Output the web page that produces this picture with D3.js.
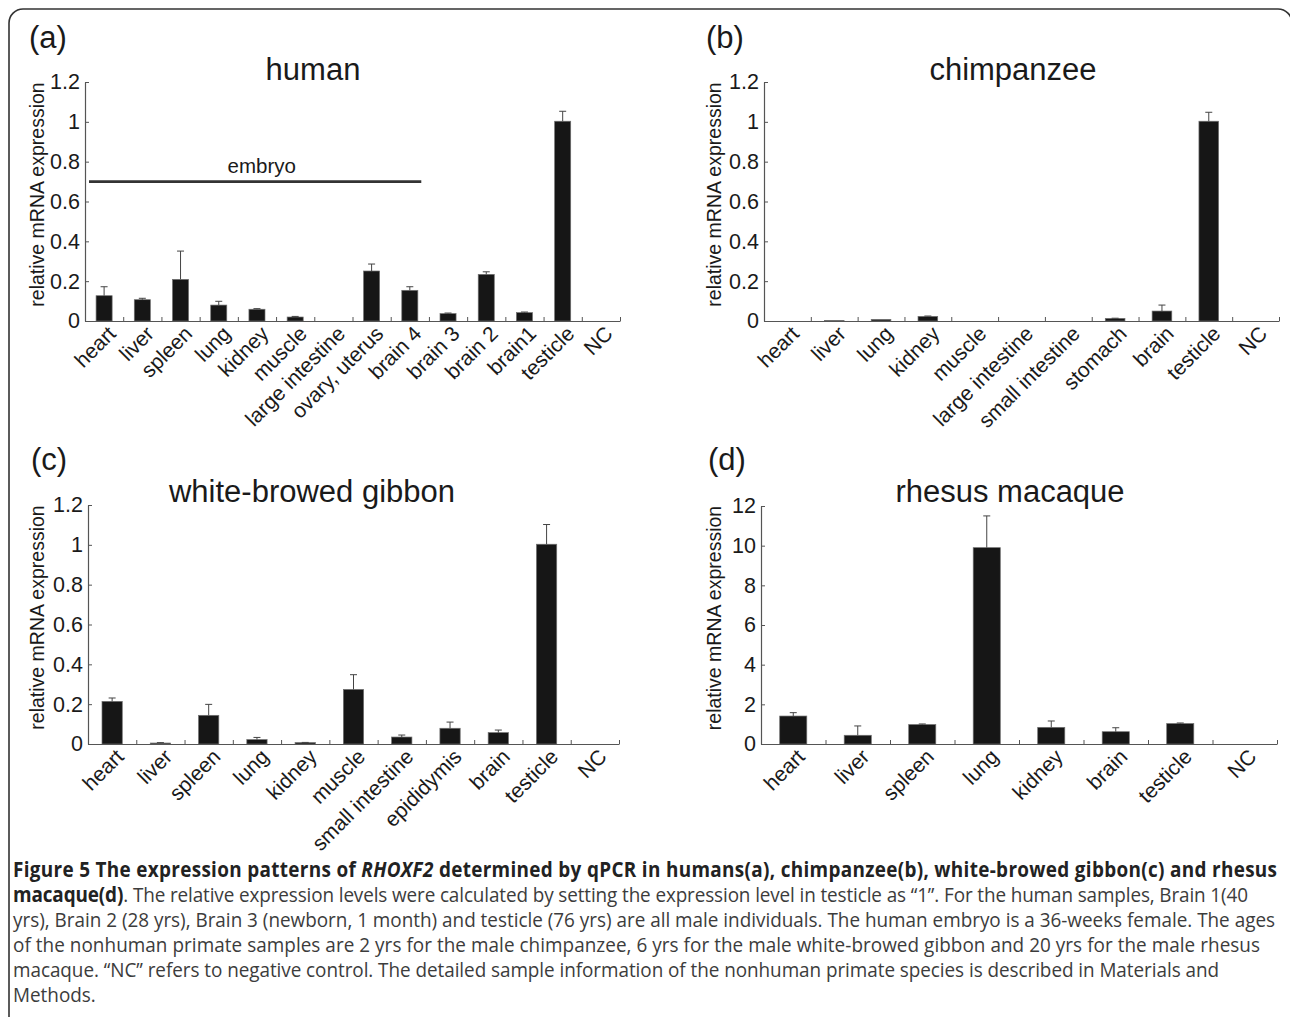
<!DOCTYPE html>
<html><head><meta charset="utf-8">
<script src="https://cdn.jsdelivr.net/npm/d3@7"></script>
<style>body{margin:0;background:#fff} svg{display:block}</style>
</head><body>
<svg id="fig" width="1290" height="1017"></svg>
<script>
// ---------- data ----------
const humanCats = ["heart","liver","spleen","lung","kidney","muscle","large intestine","ovary, uterus","brain 4","brain 3","brain 2","brain1","testicle","NC"];
const humanVals = [0.127,0.107,0.209,0.080,0.059,0.020,0,0.251,0.154,0.037,0.234,0.042,1.003,0];
const humanErr  = [0.045,0.007,0.142,0.019,0.003,0.003,0,0.035,0.018,0.003,0.013,0.003,0.050,0];

const chimpCats = ["heart","liver","lung","kidney","muscle","large intestine","small intestine","stomach","brain","testicle","NC"];
const chimpVals = [0,0.003,0.008,0.023,0,0,0,0.013,0.050,1.003,0];
const chimpErr  = [0,0,0,0.002,0,0,0,0.001,0.030,0.045,0];

const gibbonCats = ["heart","liver","spleen","lung","kidney","muscle","small intestine","epididymis","brain","testicle","NC"];
const gibbonVals = [0.214,0.005,0.144,0.022,0.007,0.274,0.035,0.079,0.057,1.003,0];
const gibbonErr  = [0.017,0.002,0.055,0.011,0.001,0.074,0.010,0.031,0.013,0.099,0];

const macaqueCats = ["heart","liver","spleen","lung","kidney","brain","testicle","NC"];
const macaqueVals = [1.41,0.44,0.98,9.90,0.84,0.62,1.03,0];
const macaqueErr  = [0.17,0.47,0.03,1.60,0.32,0.20,0.03,0];

const ticksRel = [0,0.2,0.4,0.6,0.8,1,1.2];
const ticksMac = [0,2,4,6,8,10,12];

const embryoSpan = ["heart","brain 4"];
const embryoLevel = 0.70;
const embryoLabel = "embryo";

const yLabel = "relative mRNA expression";

const captionLines = [
  [["Figure 5 The expression patterns of ","b"],["RHOXF2","bi"],[" determined by qPCR in humans(a), chimpanzee(b), white-browed gibbon(c) and rhesus","b"]],
  [["macaque(d)","b"],[". The relative expression levels were calculated by setting the expression level in testicle as \u201c1\u201d. For the human samples, Brain 1(40","n"]],
  [["yrs), Brain 2 (28 yrs), Brain 3 (newborn, 1 month) and testicle (76 yrs) are all male individuals. The human embryo is a 36-weeks female. The ages","n"]],
  [["of the nonhuman primate samples are 2 yrs for the male chimpanzee, 6 yrs for the male white-browed gibbon and 20 yrs for the male rhesus","n"]],
  [["macaque. \u201cNC\u201d refers to negative control. The detailed sample information of the nonhuman primate species is described in Materials and","n"]],
  [["Methods.","n"]]
];

// ---------- layout ----------
const svg = d3.select("#fig");
const FONT = "'Liberation Sans', Arial, Helvetica, sans-serif";
const INK = "#1a1a1a";

svg.append("rect").attr("x",9).attr("y",9).attr("width",1283).attr("height",1100)
  .attr("rx",14).attr("fill","none").attr("stroke","#333").attr("stroke-width",1.6);

const panels = [
  {tag:"(a)", title:"human", cats:humanCats, vals:humanVals, err:humanErr, ticks:ticksRel, max:1.2,
   x0:85, x1:620, y0:321, y1:82, tagX:29, tagY:48, titleX:313, titleY:80, ylabX:44, embryo:true},
  {tag:"(b)", title:"chimpanzee", cats:chimpCats, vals:chimpVals, err:chimpErr, ticks:ticksRel, max:1.2,
   x0:764, x1:1279, y0:321, y1:82, tagX:706, tagY:48, titleX:1013, titleY:80, ylabX:721},
  {tag:"(c)", title:"white-browed gibbon", cats:gibbonCats, vals:gibbonVals, err:gibbonErr, ticks:ticksRel, max:1.2,
   x0:88, x1:619, y0:744, y1:505, tagX:31, tagY:470, titleX:312, titleY:502, ylabX:44},
  {tag:"(d)", title:"rhesus macaque", cats:macaqueCats, vals:macaqueVals, err:macaqueErr, ticks:ticksMac, max:12,
   x0:761, x1:1277, y0:744, y1:506, tagX:708, tagY:470, titleX:1010, titleY:502, ylabX:721}
];

panels.forEach(p => {
  const g = svg.append("g");
  const x = d3.scaleBand().domain(p.cats).range([p.x0, p.x1]).paddingInner(0).paddingOuter(0);
  const y = d3.scaleLinear().domain([0, p.max]).range([p.y0, p.y1]);
  const bw = x.bandwidth();
  const barW = bw * 0.42;

  g.append("text").attr("x",p.tagX).attr("y",p.tagY).text(p.tag)
    .attr("font-family",FONT).attr("font-size",31).attr("fill",INK);
  g.append("text").attr("x",p.titleX).attr("y",p.titleY).text(p.title)
    .attr("text-anchor","middle").attr("font-family",FONT).attr("font-size",31).attr("fill",INK);

  g.append("text").attr("transform",`translate(${p.ylabX},${(p.y0+p.y1)/2 - 7}) rotate(-90)`)
    .attr("text-anchor","middle").attr("font-family",FONT).attr("font-size",19.5).attr("fill",INK)
    .text(yLabel);

  const data = p.cats.map((c,i)=>({c, v:p.vals[i], e:p.err[i]}));
  g.selectAll("rect.bar").data(data.filter(d=>d.v>0)).enter().append("rect")
    .attr("x", d => x(d.c) + (bw - barW)/2)
    .attr("y", d => y(d.v))
    .attr("width", barW)
    .attr("height", d => y(0) - y(d.v))
    .attr("fill","#161616").attr("stroke","#707070").attr("stroke-width",0.7);

  const eb = g.selectAll("g.err").data(data.filter(d=>d.e>0)).enter().append("g");
  eb.append("line")
    .attr("x1", d => x(d.c)+bw/2).attr("x2", d => x(d.c)+bw/2)
    .attr("y1", d => y(d.v)).attr("y2", d => y(d.v+d.e))
    .attr("stroke","#444").attr("stroke-width",1);
  eb.append("line")
    .attr("x1", d => x(d.c)+bw/2-3.5).attr("x2", d => x(d.c)+bw/2+3.5)
    .attr("y1", d => y(d.v+d.e)).attr("y2", d => y(d.v+d.e))
    .attr("stroke","#444").attr("stroke-width",1);

  const yAxis = d3.axisLeft(y).tickValues(p.ticks).tickFormat(d3.format("~g"))
    .tickSizeInner(-4).tickSizeOuter(0).tickPadding(5);
  const ya = g.append("g").attr("transform",`translate(${p.x0},0)`).call(yAxis);
  ya.select(".domain").attr("stroke","#555").attr("stroke-width",1.2);
  ya.selectAll(".tick line").attr("stroke","#555");
  ya.selectAll(".tick text").attr("font-family",FONT).attr("font-size",21.5).attr("fill",INK);

  const xi = d3.scaleLinear().domain([0, p.cats.length]).range([p.x0, p.x1]);
  const xAxis = d3.axisBottom(xi).tickValues(d3.range(1, p.cats.length+1)).tickFormat("")
    .tickSizeInner(-4).tickSizeOuter(0);
  const xa = g.append("g").attr("transform",`translate(0,${p.y0})`).call(xAxis);
  xa.select(".domain").attr("stroke","#555").attr("stroke-width",1.2);
  xa.selectAll(".tick line").attr("stroke","#555");

  g.selectAll("text.cat").data(p.cats).enter().append("text")
    .attr("transform", d => `translate(${x(d)+bw/2+13},${p.y0+14}) rotate(-45)`)
    .attr("text-anchor","end")
    .attr("font-family",FONT).attr("font-size",21).attr("fill",INK)
    .text(d => d);

  if (p.embryo) {
    const xs = x(embryoSpan[0]) + 4;
    const xe = x(embryoSpan[1]) + bw*0.8;
    g.append("line").attr("x1",xs).attr("x2",xe).attr("y1",y(embryoLevel)).attr("y2",y(embryoLevel))
      .attr("stroke","#333").attr("stroke-width",2.6);
    g.append("text").attr("x",xs+(xe-xs)*0.52).attr("y",y(embryoLevel)-9).attr("text-anchor","middle")
      .attr("font-family",FONT).attr("font-size",20.5).attr("fill",INK).text(embryoLabel);
  }
});

// ---------- caption ----------
const CAPFONT = "'Open Sans', 'Noto Sans', sans-serif";
const cap = svg.append("g");
const capX = 13, capY0 = 877, capDY = 25, capStretch = 1.1;
const capRight = [1277, 1248, 1275, 1260, 1219, null];
const texts = captionLines.map((segs,i) => {
  const t = cap.append("text")
    .attr("transform",`translate(${capX},${capY0 + i*capDY}) scale(1,${capStretch})`)
    .attr("font-family",CAPFONT).attr("font-size",16).attr("fill","#3c3c3c");
  segs.forEach(([s,st]) => {
    const ts = t.append("tspan").text(s);
    if (st.includes("b")) ts.attr("font-weight",700).attr("fill","#222");
    if (st.includes("i")) ts.attr("font-style","italic");
  });
  return t;
});
const w3 = texts[2].node().getComputedTextLength();
const fs = 16 * (capRight[2] - capX) / w3;
texts.forEach((t,i) => {
  t.attr("font-size", fs);
  if (capRight[i]) t.attr("textLength", capRight[i] - capX).attr("lengthAdjust","spacing");
});
</script>
</body></html>
